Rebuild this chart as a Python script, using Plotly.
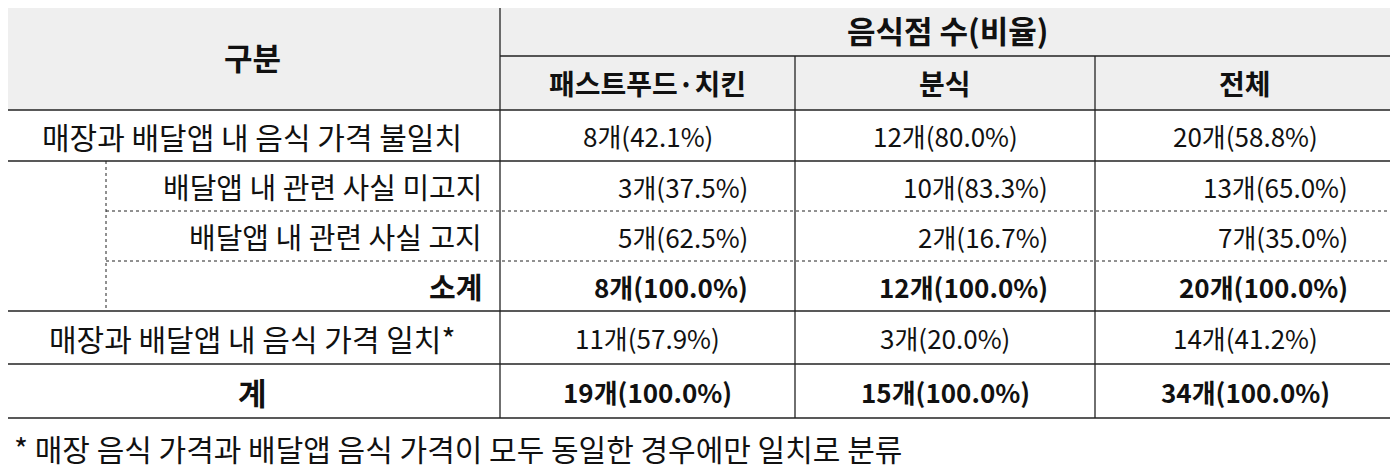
import plotly.graph_objects as go

# table content
col_header_top = "음식점 수(비율)"
col_headers = ["패스트푸드·치킨", "분식", "전체"]
row_labels = ["매장과 배달앱 내 음식 가격 불일치", "배달앱 내 관련 사실 미고지", "배달앱 내 관련 사실 고지",
              "소계", "매장과 배달앱 내 음식 가격 일치*", "계"]
fastfood = ["8개(42.1%)", "3개(37.5%)", "5개(62.5%)", "8개(100.0%)", "11개(57.9%)", "19개(100.0%)"]
bunsik = ["12개(80.0%)", "10개(83.3%)", "2개(16.7%)", "12개(100.0%)", "3개(20.0%)", "15개(100.0%)"]
total = ["20개(58.8%)", "13개(65.0%)", "7개(35.0%)", "20개(100.0%)", "14개(41.2%)", "34개(100.0%)"]
footnote = "* 매장 음식 가격과 배달앱 음식 가격이 모두 동일한 경우에만 일치로 분류"

# geometry in page pixels
X0, XS, X1, X2, X3, XE = 4, 106, 500, 795, 1095, 1395
Y = [2, 56, 110, 161, 211, 261, 311, 364, 418]
FONT = "Noto Sans CJK KR, Malgun Gothic, sans-serif"
PAD = 8  # page body margin

fig = go.Figure()
shapes = []
ann = []


def line(x0, y0, x1, y1, dash="solid", w=1.3):
    shapes.append(dict(type="line", x0=x0, y0=y0, x1=x1, y1=y1,
                       line=dict(color="#222", width=w, dash=dash)))


def text(x, y, t, anchor="center", bold=False, size=27):
    if bold:
        t = "<b>" + t + "</b>"
    ann.append(dict(x=x, y=y, text=t, showarrow=False, xanchor=anchor, yanchor="middle",
                    font=dict(family=FONT, size=size, color="#111")))


# header background
shapes.append(dict(type="rect", x0=X0, y0=Y[0], x1=XE, y1=Y[2], fillcolor="#efefef", line=dict(width=0), layer="below"))

# outer + grid lines
line(X0, Y[0], XE, Y[0])
line(X0, Y[8], XE, Y[8])
line(X0, Y[0], X0, Y[8])
line(XE, Y[0], XE, Y[8])
line(X1, Y[1], XE, Y[1])
for yy in [Y[2], Y[3], Y[6], Y[7]]:
    line(X0, yy, XE, yy)
for yy in [Y[4], Y[5]]:
    line(XS, yy, XE, yy, dash="dot", w=1)
line(XS, Y[3], XS, Y[6], dash="dot", w=1)
line(X1, Y[0], X1, Y[8])
line(X2, Y[1], X2, Y[8])
line(X3, Y[1], X3, Y[8])

# headers
text((X0 + X1) / 2, (Y[0] + Y[2]) / 2, "구분", bold=True, size=31)
text((X1 + XE) / 2, (Y[0] + Y[1]) / 2, col_header_top, bold=True, size=31)
for (a, b), h in zip([(X1, X2), (X2, X3), (X3, XE)], col_headers):
    text((a + b) / 2, (Y[1] + Y[2]) / 2, h, bold=True, size=28)

# rows
cols = [(X1, X2), (X2, X3), (X3, XE)]
for i, lab in enumerate(row_labels):
    yc = (Y[i + 2] + Y[i + 3]) / 2
    bold = lab in ("소계", "계")
    sub = i in (1, 2, 3)
    if sub:
        text(X1 - 16, yc, lab, anchor="right", bold=bold, size=29)
    else:
        text((X0 + X1) / 2, yc, lab, bold=bold, size=31 if bold else 30)
    for (a, b), vals in zip(cols, [fastfood, bunsik, total]):
        if sub:
            text(b - 45, yc, vals[i], anchor="right", bold=bold, size=26)
        else:
            text((a + b) / 2, yc, vals[i], bold=bold, size=26)

text(12, 448, footnote, anchor="left", size=30)

fig.update_layout(
    width=1398 - PAD, height=474 - PAD, margin=dict(l=0, r=0, t=0, b=0),
    paper_bgcolor="white", plot_bgcolor="white",
    xaxis=dict(range=[PAD, 1398], visible=False, fixedrange=True),
    yaxis=dict(range=[474, PAD], visible=False, fixedrange=True),
    shapes=shapes, annotations=ann, showlegend=False,
)
fig.write_html("out.html", config={"displayModeBar": False})
